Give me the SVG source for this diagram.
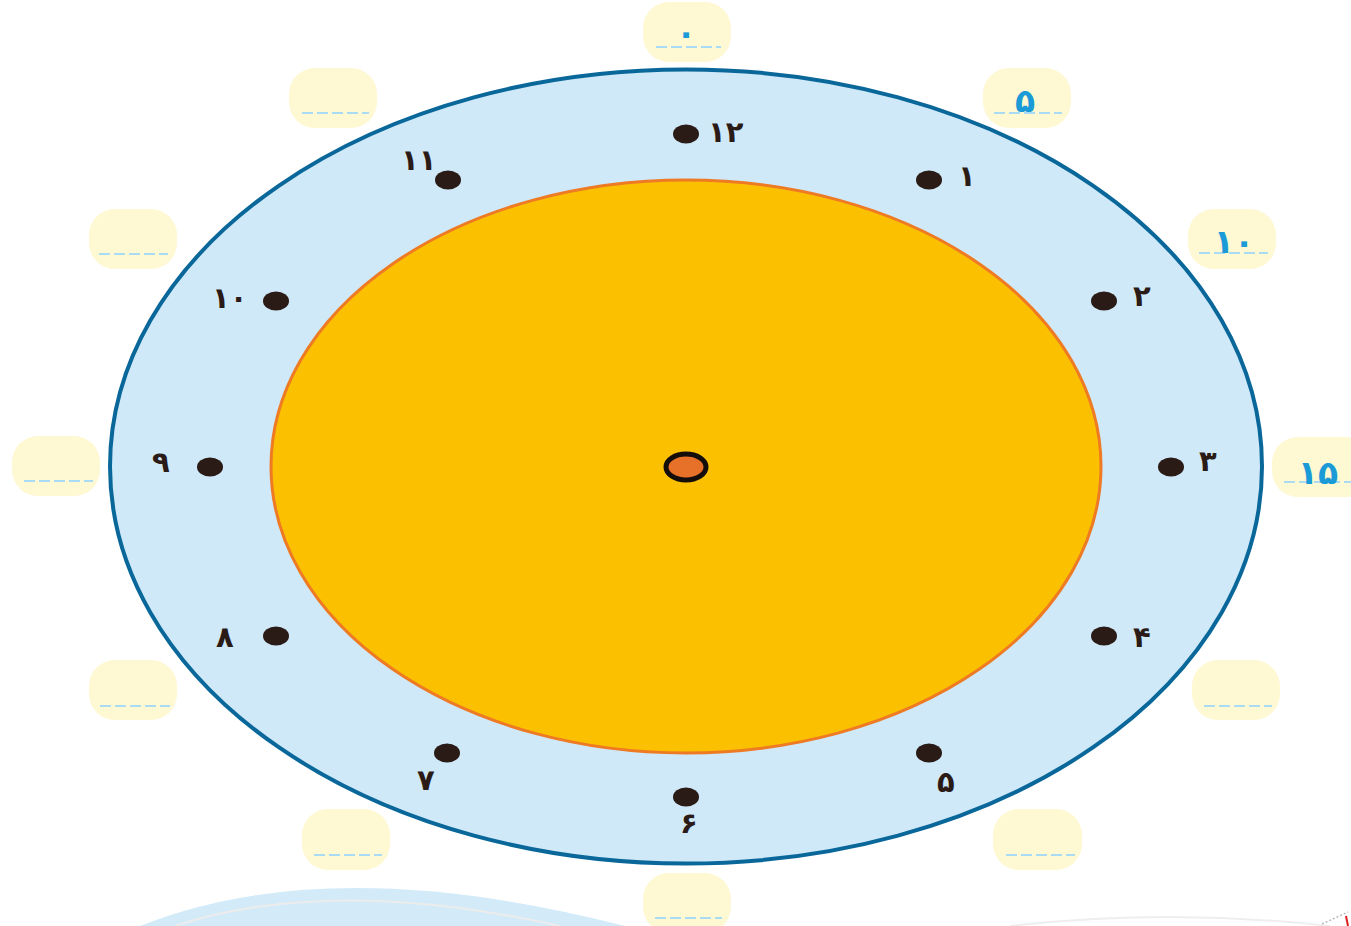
<svg xmlns="http://www.w3.org/2000/svg" width="1351" height="926" viewBox="0 0 1351 926">
<style>
.box{fill:#fef8d3}
.dash{stroke:#a9dbf4;stroke-width:2;stroke-dasharray:11,4;fill:none}
.dot{fill:#2a1b17}
.num{font-family:"DejaVu Sans","Noto Sans",sans-serif;font-size:29px;font-weight:bold;fill:#2a1b17}
.ans{font-family:"DejaVu Sans","Noto Sans",sans-serif;font-size:33px;font-weight:bold;fill:#1a9ad6;text-anchor:middle}
</style>
<rect width="1351" height="926" fill="#ffffff"/>
<g id="bottom-decor">
<path d="M140,926 Q330,850 625,926 Z" fill="#d3ebf9"/>
<path d="M175,926 Q330,875 560,926" fill="none" stroke="#ececec" stroke-width="2"/>
<path d="M1010,926 Q1170,908 1330,926" fill="none" stroke="#eeeeee" stroke-width="2"/>
<path d="M1322,924 L1348,912" fill="none" stroke="#bbbbbb" stroke-width="1.5" stroke-dasharray="2,2"/>
<path d="M1346,916 L1348,926" fill="none" stroke="#e02020" stroke-width="2"/>
</g>
<g id="clock">
<ellipse cx="686" cy="466.5" rx="576" ry="397" fill="#cfe9f9" stroke="#0a679a" stroke-width="4"/>
<ellipse cx="686" cy="466.5" rx="415" ry="286.5" fill="#fbc100" stroke="#ee7a23" stroke-width="3"/>
<ellipse cx="686" cy="467" rx="20" ry="13" fill="#e8712a" stroke="#150d0a" stroke-width="5"/>
</g>
<g id="marks">
<g id="h12"><ellipse class="dot" cx="686" cy="134" rx="13" ry="9.5"/><text class="num" x="708" y="142">۱۲</text></g>
<g id="h1"><ellipse class="dot" cx="929" cy="180" rx="13" ry="9.5"/><text class="num" x="958" y="186">۱</text></g>
<g id="h2"><ellipse class="dot" cx="1104" cy="301" rx="13" ry="9.5"/><text class="num" x="1133" y="306">۲</text></g>
<g id="h3"><ellipse class="dot" cx="1171" cy="467" rx="13" ry="9.5"/><text class="num" x="1199" y="471">۳</text></g>
<g id="h4"><ellipse class="dot" cx="1104" cy="636" rx="13" ry="9.5"/><text class="num" x="1133" y="647">۴</text></g>
<g id="h5"><ellipse class="dot" cx="929" cy="753" rx="13" ry="9.5"/><text class="num" x="937" y="792">۵</text></g>
<g id="h6"><ellipse class="dot" cx="686" cy="797" rx="13" ry="9.5"/><text class="num" x="680" y="833">۶</text></g>
<g id="h7"><ellipse class="dot" cx="447" cy="753" rx="13" ry="9.5"/><text class="num" x="417" y="790">۷</text></g>
<g id="h8"><ellipse class="dot" cx="276" cy="636" rx="13" ry="9.5"/><text class="num" x="216" y="647">۸</text></g>
<g id="h9"><ellipse class="dot" cx="210" cy="467" rx="13" ry="9.5"/><text class="num" x="152" y="472">۹</text></g>
<g id="h10"><ellipse class="dot" cx="276" cy="301" rx="13" ry="9.5"/><text class="num" x="212" y="308">۱۰</text></g>
<g id="h11"><ellipse class="dot" cx="448" cy="180" rx="13" ry="9.5"/><text class="num" x="401" y="170">۱۱</text></g>
</g>
<g id="answers">
<g id="a0"><rect class="box" x="643" y="2" width="88" height="60" rx="26"/><path class="dash" d="M656,47 H721"/><text class="ans" x="686" y="44">۰</text></g>
<g id="a5"><rect class="box" x="983" y="68" width="88" height="60" rx="26"/><path class="dash" d="M994,113 H1062"/><text class="ans" x="1025" y="112">۵</text></g>
<g id="a10"><rect class="box" x="1188" y="209" width="88" height="60" rx="26"/><path class="dash" d="M1199,253 H1268"/><text class="ans" x="1234" y="253">۱۰</text></g>
<g id="a15"><rect class="box" x="1272" y="437" width="100" height="60" rx="26"/><path class="dash" d="M1284,482 H1351"/><text class="ans" x="1318" y="484">۱۵</text></g>
<g id="a20"><rect class="box" x="1192" y="660" width="88" height="60" rx="26"/><path class="dash" d="M1204,706 H1272"/></g>
<g id="a25"><rect class="box" x="993" y="809" width="89" height="61" rx="26"/><path class="dash" d="M1006,855 H1075"/></g>
<g id="a30"><rect class="box" x="643" y="873" width="88" height="60" rx="26"/><path class="dash" d="M655,918 H722"/></g>
<g id="a35"><rect class="box" x="302" y="809" width="88" height="61" rx="26"/><path class="dash" d="M314,855 H382"/></g>
<g id="a40"><rect class="box" x="89" y="660" width="88" height="60" rx="26"/><path class="dash" d="M100,706 H170"/></g>
<g id="a45"><rect class="box" x="12" y="436" width="88" height="60" rx="26"/><path class="dash" d="M24,481 H93"/></g>
<g id="a50"><rect class="box" x="89" y="209" width="88" height="60" rx="26"/><path class="dash" d="M99,254 H168"/></g>
<g id="a55"><rect class="box" x="289" y="68" width="88" height="60" rx="26"/><path class="dash" d="M302,113 H369"/></g>
</g>
</svg>
